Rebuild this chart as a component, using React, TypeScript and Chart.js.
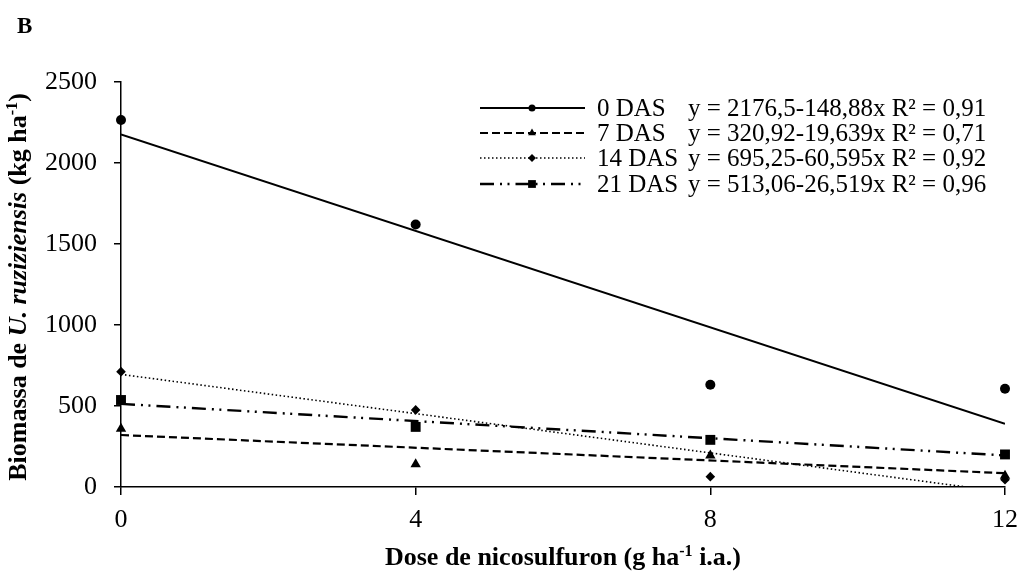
import { useEffect, useRef } from "react";
import { Chart, registerables } from "chart.js";

Chart.register(...registerables);

// Nicosulfuron doses (g ha-1 i.a.) and measured biomass (kg ha-1) per sowing delay
const doseValues = [0, 4, 8, 12];
const seriesLabels = ["0 DAS", "7 DAS", "14 DAS", "21 DAS"];
const biomass0Das = [2265, 1620, 631, 606];
const biomass7Das = [360, 140, 195, 70];
const biomass14Das = [712, 476, 64, 45];
const biomass21Das = [537, 371, 291, 201];

// Linear fits y = a + b x for each series
const fitIntercepts = [2176.5, 320.92, 695.25, 513.06];
const fitSlopes = [-148.88, -19.639, -60.595, -26.519];
const fitEquations = [
  "y = 2176,5-148,88x R² = 0,91",
  "y = 320,92-19,639x R² = 0,71",
  "y = 695,25-60,595x R² = 0,92",
  "y = 513,06-26,519x R² = 0,96",
];

const xTickValues = [0, 4, 8, 12];
const yTickValues = [0, 500, 1000, 1500, 2000, 2500];

const FONT = "'Liberation Serif', 'Times New Roman', serif";
const markerStyles = ["circle", "triangle", "rectRot", "rect"];
const markerRadii = [5, 6, 4.8, 7];
const legendMarkerRadii = [3.5, 4.5, 4, 5.5];
const dashPatterns: number[][] = [[], [8, 4], [1.5, 2.5], [14, 6, 2, 5.5, 2, 6]];
const lineWidths = [2, 2.2, 1.6, 2.4];

const allSeries = [biomass0Das, biomass7Das, biomass14Das, biomass21Das];

function drawMarker(ctx: CanvasRenderingContext2D, style: string, x: number, y: number, r: number) {
  ctx.beginPath();
  if (style === "circle") {
    ctx.arc(x, y, r, 0, Math.PI * 2);
  } else if (style === "triangle") {
    const hw = r * Math.sin(Math.PI / 3);
    ctx.moveTo(x, y - r);
    ctx.lineTo(x + hw, y + r / 2);
    ctx.lineTo(x - hw, y + r / 2);
    ctx.closePath();
  } else if (style === "rectRot") {
    ctx.moveTo(x - r, y);
    ctx.lineTo(x, y - r);
    ctx.lineTo(x + r, y);
    ctx.lineTo(x, y + r);
    ctx.closePath();
  } else {
    const s = r * Math.SQRT1_2;
    ctx.rect(x - s, y - s, 2 * s, 2 * s);
  }
  ctx.fill();
}

const fitLegend = {
  id: "fitLegend",
  afterDraw(chart: any) {
    const ctx: CanvasRenderingContext2D = chart.ctx;
    const rowY = [108, 133, 158, 184];
    const lineX0 = 480;
    const lineX1 = 585;
    const markerX = 532;
    const nameX = 597;
    const eqX = 688;
    ctx.save();
    ctx.fillStyle = "#000";
    ctx.strokeStyle = "#000";
    ctx.font = `25px ${FONT}`;
    ctx.textBaseline = "middle";
    ctx.textAlign = "left";
    seriesLabels.forEach((label, i) => {
      const y = rowY[i];
      ctx.lineWidth = lineWidths[i];
      ctx.setLineDash(dashPatterns[i]);
      ctx.beginPath();
      ctx.moveTo(lineX0, y);
      ctx.lineTo(lineX1, y);
      ctx.stroke();
      ctx.setLineDash([]);
      drawMarker(ctx, markerStyles[i], markerX, y, legendMarkerRadii[i]);
      ctx.fillText(label, nameX, y + 1);
      ctx.fillText(fitEquations[i], eqX, y + 1);
    });
    ctx.restore();
  },
};

function fitLine(i: number) {
  const a = fitIntercepts[i];
  const b = fitSlopes[i];
  const last = doseValues[doseValues.length - 1];
  const xEnd = a + b * last >= 0 ? last : -a / b;
  return [
    { x: doseValues[0], y: a + b * doseValues[0] },
    { x: xEnd, y: a + b * xEnd },
  ];
}

export default function App() {
  const canvasRef = useRef<HTMLCanvasElement | null>(null);

  useEffect(() => {
    if (!canvasRef.current) return;
    const datasets: any[] = [];
    allSeries.forEach((values, i) => {
      datasets.push({
        label: seriesLabels[i] + " fit",
        data: fitLine(i),
        showLine: true,
        borderColor: "#000",
        borderWidth: lineWidths[i],
        borderDash: dashPatterns[i],
        pointRadius: 0,
        fill: false,
        order: 2,
      });
      datasets.push({
        label: seriesLabels[i],
        data: doseValues.map((d, k) => ({ x: d, y: values[k] })),
        showLine: false,
        pointStyle: markerStyles[i],
        pointRadius: markerRadii[i],
        pointBackgroundColor: "#000",
        pointBorderColor: "#000",
        pointBorderWidth: 0,
        clip: false,
        order: 1,
      });
    });

    const tickFont = { family: FONT, size: 26 };
    const chart = new Chart(canvasRef.current, {
      type: "scatter",
      data: { datasets },
      options: {
        responsive: false,
        animation: false,
        events: [],
        layout: { padding: { top: 82, right: 24, left: 0, bottom: 0 } },
        plugins: {
          legend: { display: false },
          tooltip: { enabled: false },
          title: { display: false },
        },
        scales: {
          x: {
            type: "linear",
            min: 0,
            max: 12,
            afterBuildTicks: (s: any) => {
              s.ticks = xTickValues.map((v) => ({ value: v }));
            },
            afterFit: (s: any) => {
              s.height = 87;
            },
            grid: {
              display: true,
              drawOnChartArea: false,
              drawTicks: true,
              tickLength: 8,
              color: "#000",
              lineWidth: 1.5,
            },
            border: { display: true, color: "#000", width: 1.5 },
            ticks: {
              color: "#000",
              font: tickFont,
              padding: 10,
              maxRotation: 0,
              autoSkip: false,
              callback: (v: any) => String(v),
            },
          },
          y: {
            type: "linear",
            min: 0,
            max: 2500,
            afterBuildTicks: (s: any) => {
              s.ticks = yTickValues.map((v) => ({ value: v }));
            },
            afterFit: (s: any) => {
              s.width = 121;
            },
            grid: {
              display: true,
              drawOnChartArea: false,
              drawTicks: true,
              tickLength: 7,
              color: "#000",
              lineWidth: 1.5,
            },
            border: { display: true, color: "#000", width: 1.5 },
            ticks: {
              color: "#000",
              font: tickFont,
              padding: 17,
              autoSkip: false,
              callback: (v: any) => String(v),
            },
          },
        },
      },
      plugins: [fitLegend],
    } as any);
    return () => chart.destroy();
  }, []);

  const boldText = { fontFamily: FONT, fontWeight: 700, color: "#000", whiteSpace: "nowrap" as const, lineHeight: 1 };
  const supStyle = { fontSize: "0.62em", verticalAlign: "0.55em", lineHeight: 0 };

  return (
    <div style={{ position: "absolute", left: 0, top: 0, width: 1029, height: 574, background: "#fff", overflow: "hidden" }}>
      <canvas ref={canvasRef} width={1029} height={574} style={{ position: "absolute", left: 0, top: 0, display: "block" }} />
      <div style={{ ...boldText, position: "absolute", left: 17, top: 14, fontSize: 23 }}>B</div>
      <div
        style={{
          ...boldText,
          position: "absolute",
          left: 18,
          top: 287,
          fontSize: 26,
          transform: "translate(-50%, -50%) rotate(-90deg)",
        }}
      >
        Biomassa de <i>U. ruziziensis</i> (kg ha<sup style={supStyle}>-1</sup>)
      </div>
      <div
        style={{
          ...boldText,
          position: "absolute",
          left: 563,
          top: 557,
          fontSize: 26,
          transform: "translate(-50%, -50%)",
        }}
      >
        Dose de nicosulfuron (g ha<sup style={supStyle}>-1</sup> i.a.)
      </div>
    </div>
  );
}
